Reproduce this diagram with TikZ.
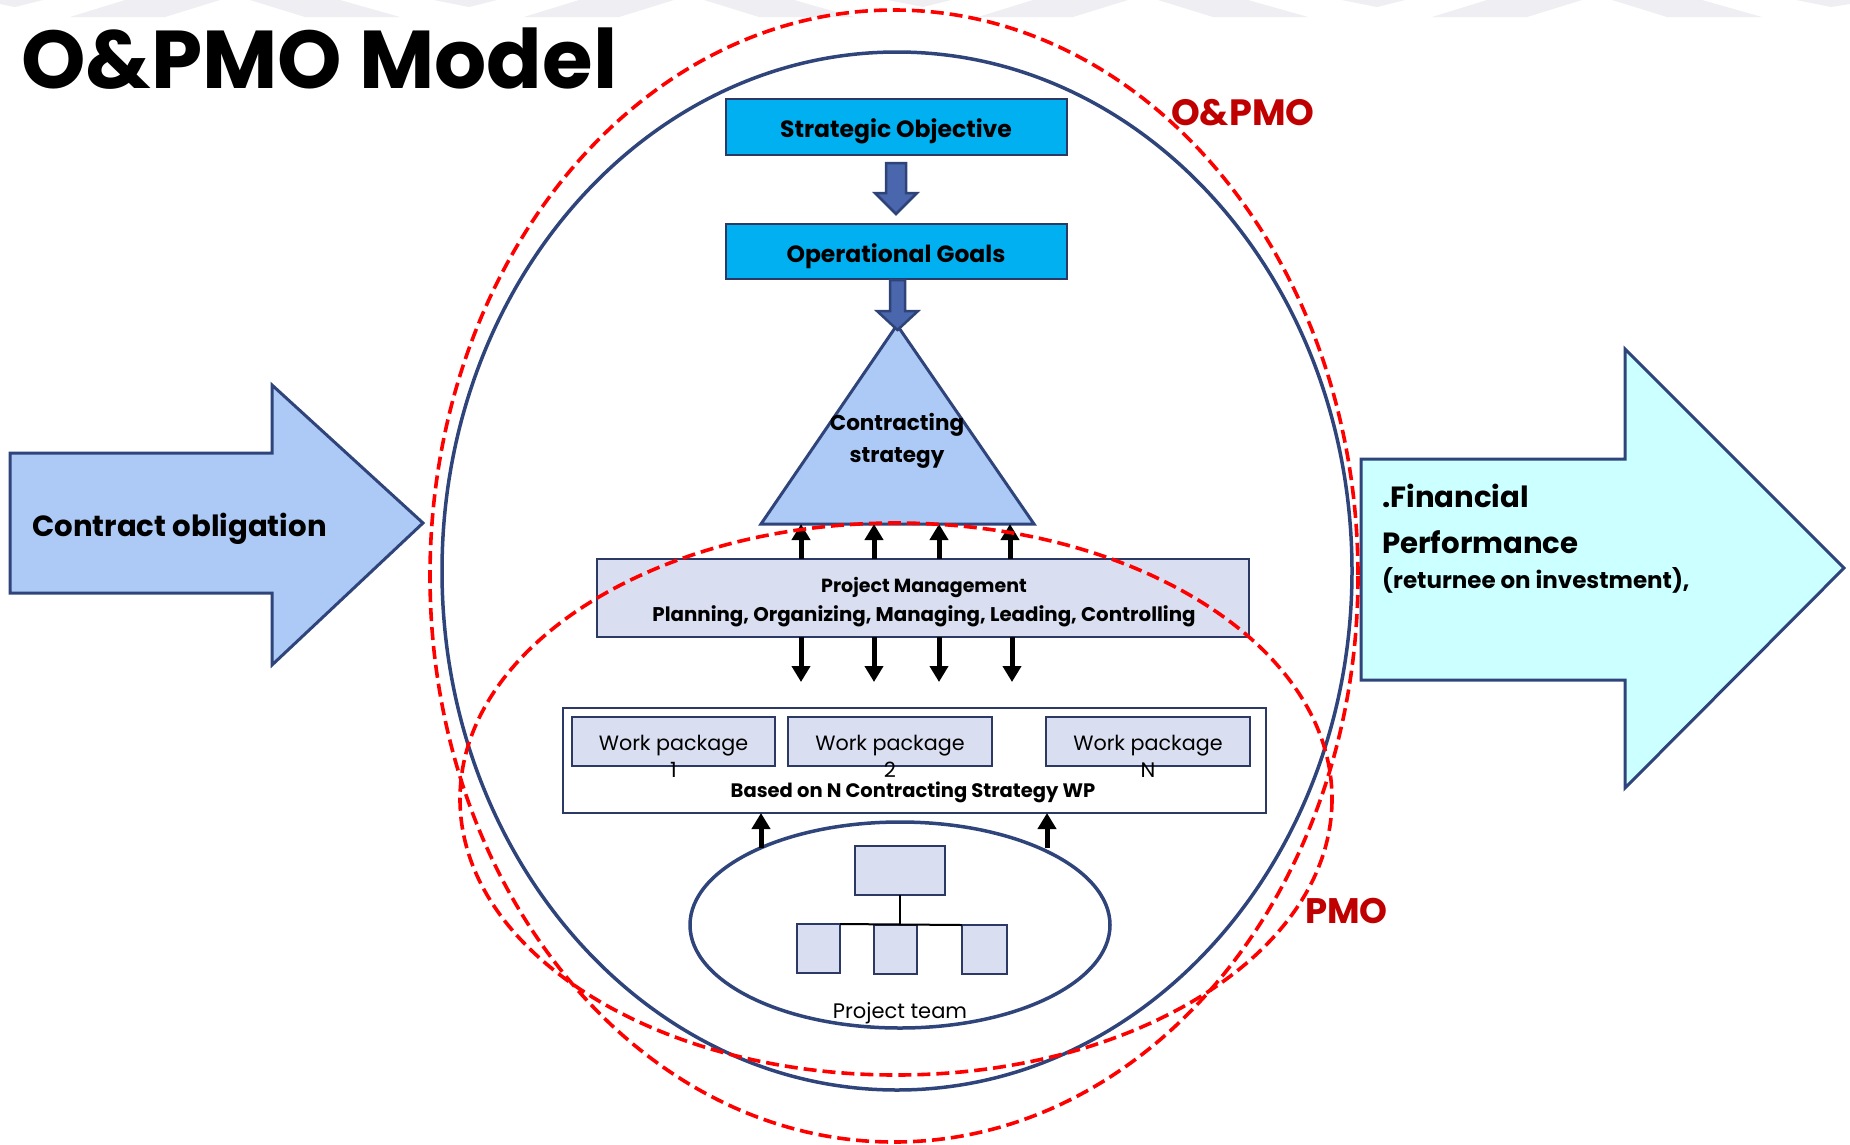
\documentclass[tikz,border=0pt]{standalone}
\usepackage{fontspec}
\setmainfont{Poppins}
\usetikzlibrary{arrows.meta,shapes.geometric,calc}
\definecolor{cNavy}{RGB}{47,68,122}
\definecolor{cLine}{RGB}{43,57,100}
\definecolor{cSky}{RGB}{0,176,240}
\definecolor{cTri}{RGB}{172,202,245}
\definecolor{cLav}{RGB}{217,223,240}
\definecolor{cBlk}{RGB}{74,102,172}
\definecolor{cBlkLine}{RGB}{46,68,120}
\definecolor{cAqua}{RGB}{204,255,255}
\definecolor{cDRed}{RGB}{192,0,0}
\definecolor{cBand}{RGB}{239,239,243}
\newcommand{\fsz}[1]{\fontsize{#1}{#1}\selectfont}
\begin{document}
\begin{tikzpicture}[x=1pt,y=-1pt,
  skybox/.style={draw=cLine,line width=2pt,fill=cSky,minimum width=341pt,inner sep=0pt,outer sep=0pt},
  lavbox/.style={draw=cLine,line width=2pt,fill=cLav,inner sep=0pt,outer sep=0pt},
  plainbox/.style={draw=cLine,line width=2pt,fill=white,inner sep=0pt,outer sep=0pt},
  blockarrow/.style={draw=cBlkLine,line width=2.5pt,fill=cBlk,line join=miter},
  bigarrow/.style={draw=cNavy,line width=3pt,line join=miter},
  thinarrow/.style={draw=black,line width=5pt,-{Triangle[length=16pt,width=18pt]}},
  reddash/.style={draw=red,line width=3.6pt,dash pattern=on 13pt off 6pt},
  teamell/.style={ellipse,draw=cNavy,line width=3.5pt,fill=white,minimum width=420pt,minimum height=206pt,inner sep=0pt,outer sep=0pt},
  orgline/.style={draw=black,line width=2pt},
  band/.style={fill=cBand,draw=none},
  boldtxt/.style={inner sep=0pt,anchor=base,font=\bfseries},
  regtxt/.style={inner sep=0pt,anchor=base},
]
\useasboundingbox (0,0) rectangle (1850,1144);
\fill[white] (0,0) rectangle (1850,1144);

% faint banner at the top
\foreach \o in {0,454,908,1362}{
  \path[band] (\o+70,17) -- (\o+125,0) -- (\o+220,0) -- (\o+165,17) -- cycle;
  \path[band] (\o+250,0) -- (\o+340,0) -- (\o+400,17) -- (\o+305,17) -- cycle;
  \path[band] (\o-20,0) -- (\o+43,0) -- (\o+15,7) -- cycle;
}
\path[band] (1796,0) -- (1850,0) -- (1850,4) -- (1831,7) -- cycle;

% outer blue ellipse
\draw[cNavy,line width=3.5pt] (897,571) ellipse [x radius=455, y radius=519];

% big side arrows
\draw[bigarrow,fill=cTri] (10,453) -- (272,453) -- (272,385) -- (423,523) -- (272,665) -- (272,593) -- (10,593) -- cycle;
\draw[bigarrow,fill=cAqua] (1361,459) -- (1625,459) -- (1625,349) -- (1844,568) -- (1625,788) -- (1625,680) -- (1361,680) -- cycle;

% top boxes
\node[skybox,minimum height=56pt] (so) at (896.5,127) {};
\node[skybox,minimum height=55pt] (og) at (896.5,251.5) {};

% triangle
\coordinate (tt) at (897,325);
\coordinate (tl) at (761,524);
\coordinate (tr) at (1034,524);
\draw[draw=cNavy,line width=3pt,fill=cTri,line join=miter] (tt) -- (tr) -- (tl) -- cycle;

% block arrows
\draw[blockarrow] (886,163) -- (906,163) -- (906,193) -- (917,193) -- (896,214) -- (875,193) -- (886,193) -- cycle;
\draw[blockarrow] (890,280) -- (905,280) -- (905,311) -- (918,311) -- (897.5,330) -- (877,311) -- (890,311) -- cycle;

% project management box
\node[lavbox,minimum width=652pt,minimum height=78pt] (pm) at (923,598) {};

% work package area
\node[plainbox,minimum width=703pt,minimum height=105pt] (wp) at (914.5,760.5) {};
\node[lavbox,minimum width=203pt,minimum height=49pt] (wp1) at (673.5,741.5) {};
\node[lavbox,minimum width=204pt,minimum height=49pt] (wp2) at (890,741.5) {};
\node[lavbox,minimum width=204pt,minimum height=49pt] (wpn) at (1148,741.5) {};

% project team
\node[teamell] (team) at (900,925) {};
\node[lavbox,minimum width=90pt,minimum height=49pt] (lead) at (900,870.5) {};
\node[lavbox,minimum width=43pt,minimum height=49pt] (m1) at (818.5,948.5) {};
\node[lavbox,minimum width=43pt,minimum height=49pt] (m2) at (895.5,949.5) {};
\node[lavbox,minimum width=45pt,minimum height=49pt] (m3) at (984.5,949.5) {};
\draw[orgline] (lead.south) -- (lead.south |- m2.north);
\draw[orgline] (m1.north east) -- (m3.north west);

% thin arrows
\foreach \x in {801,874,939,1010}{
  \draw[thinarrow] (pm.north -| \x,0) -- (tl -| \x,0);
}
\coordinate (dtip) at (0,682);
\foreach \x in {801,874,939,1012}{
  \draw[thinarrow] (pm.south -| \x,0) -- (dtip -| \x,0);
}
\coordinate (tu1) at (761,848);
\coordinate (tu2) at (1047,848);
\draw[thinarrow] (tu1) -- (wp.south -| tu1);
\draw[thinarrow] (tu2) -- (wp.south -| tu2);

% red dashed ellipses
\draw[reddash] (894,576) ellipse [x radius=464, y radius=566];
\draw[reddash] (896,799) ellipse [x radius=436, y radius=276];

% texts
\node[boldtxt,anchor=base west,font=\fsz{82}\bfseries] (title) at (21,88) {O\&PMO Model};
\node[boldtxt,anchor=base west,text=cDRed,font=\fsz{36.6}\bfseries] (lopmo) at (1171,125) {O\&PMO};
\node[boldtxt,anchor=base west,text=cDRed,font=\fsz{35.5}\bfseries] (lpmo) at (1305,923) {PMO};
\node[boldtxt,font=\fsz{23.5}\bfseries] (tso) at (896,137) {Strategic Objective};
\node[boldtxt,font=\fsz{23.5}\bfseries] (tog) at (896,262) {Operational Goals};
\node[boldtxt,font=\fsz{21.5}\bfseries] (tcs1) at (897,430) {Contracting};
\node[boldtxt,font=\fsz{21.5}\bfseries] (tcs2) at (897,462) {strategy};
\node[boldtxt,font=\fsz{19}\bfseries] (tpm1) at (924,592) {Project Management};
\node[boldtxt,font=\fsz{19.8}\bfseries] (tpm2) at (924,621) {Planning, Organizing, Managing, Leading, Controlling};
\node[regtxt,font=\fsz{20.7}] (twp1) at (673.5,750) {Work package};
\node[regtxt,font=\fsz{20.7}] (twp2) at (890,750) {Work package};
\node[regtxt,font=\fsz{20.7}] (twpn) at (1148,750) {Work package};
\node[regtxt,font=\fsz{21}] (nwp1) at (673.5,777) {1};
\node[regtxt,font=\fsz{21}] (nwp2) at (890,777) {2};
\node[regtxt,font=\fsz{21}] (nwpn) at (1148,777) {N};
\node[boldtxt,font=\fsz{19.5}\bfseries] (tbased) at (913,797) {Based on N Contracting Strategy WP};
\node[regtxt,font=\fsz{21}] (tteam) at (900,1018) {Project team};
\node[boldtxt,anchor=base west,font=\fsz{29.2}\bfseries] (tco) at (32,536) {Contract obligation};
\node[boldtxt,anchor=base west,font=\fsz{29.2}\bfseries] (tfp1) at (1382,507) {.Financial};
\node[boldtxt,anchor=base west,font=\fsz{29.2}\bfseries] (tfp2) at (1382,553) {Performance};
\node[boldtxt,anchor=base west,font=\fsz{23}\bfseries] (tfp3) at (1382,588) {(returnee on investment),};
\end{tikzpicture}
\end{document}
